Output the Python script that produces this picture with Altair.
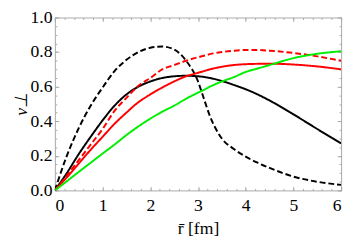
import altair as alt
import pandas as pd

r = [0, 0.25, 0.5, 0.75, 1.0, 1.25, 1.5, 1.75, 2.0, 2.25, 2.5, 2.75, 3.0, 3.1,
     3.25, 3.5, 3.75, 4.0, 4.25, 4.5, 5.0, 5.5, 6.0]

black_dashed = [0, 0.20, 0.36, 0.49, 0.595, 0.69, 0.755, 0.80, 0.825, 0.832, 0.815,
                0.75, 0.63, 0.55, 0.43, 0.30, 0.24, 0.195, 0.16, 0.13, 0.08, 0.05, 0.032]
black_solid = [0, 0.10, 0.21, 0.31, 0.405, 0.49, 0.555, 0.60, 0.63, 0.65, 0.66,
               0.663, 0.66, 0.657, 0.65, 0.633, 0.61, 0.585, 0.555, 0.52, 0.44, 0.355, 0.272]
red_dashed = [0, 0.085, 0.175, 0.265, 0.355, 0.46, 0.535, 0.605, 0.65, 0.70, 0.725,
              0.75, 0.77, 0.777, 0.788, 0.80, 0.808, 0.812, 0.812, 0.808, 0.795, 0.775, 0.75]
red_solid = [0, 0.075, 0.155, 0.235, 0.31, 0.385, 0.45, 0.51, 0.555, 0.595, 0.63,
             0.66, 0.68, 0.688, 0.70, 0.715, 0.725, 0.73, 0.732, 0.733, 0.728, 0.717, 0.70]
green_solid = [0, 0.053, 0.107, 0.16, 0.213, 0.265, 0.32, 0.37, 0.415, 0.455, 0.49,
               0.53, 0.565, 0.578, 0.60, 0.63, 0.655, 0.685, 0.705, 0.725, 0.765, 0.79, 0.805]

series_names = ["black dashed", "black solid", "red dashed", "red solid", "green"]
series_values = [black_dashed, black_solid, red_dashed, red_solid, green_solid]
series_colors = ["#000000", "#000000", "#ff0000", "#ff0000", "#00ee00"]
series_dash = [[6, 3], [1, 0], [6, 3], [1, 0], [1, 0]]

x_major = [0, 1, 2, 3, 4, 5, 6]
x_minor = [i / 5 for i in range(31)]
y_major = [0.0, 0.2, 0.4, 0.6, 0.8, 1.0]
y_minor = [i / 20 for i in range(21)]

rows = []
for name, vals in zip(series_names, series_values):
    for rv, vv in zip(r, vals):
        rows.append({"r": rv, "v": vv, "series": name})
df = pd.DataFrame(rows)

FONT = "Liberation Serif"
TICK = "#a8a8a8"
FS = 18
xs = alt.Scale(domain=[0, 6], nice=False, zero=False)
ys = alt.Scale(domain=[0, 1], nice=False, zero=False)


def ax(orient, values, size, labels=False, **kw):
    return alt.Axis(orient=orient, values=values, tickSize=size, offset=-size,
                    domain=False, grid=False, labels=labels, tickColor=TICK,
                    tickWidth=1, **kw)


base = alt.Chart(df)

lines = base.mark_line(strokeWidth=2, interpolate="monotone", clip=True).encode(
    x=alt.X("r:Q", scale=xs,
            axis=ax("bottom", x_major, 4, labels=True, format="d",
                    title="r̄ [fm]", labelFont=FONT, labelFontSize=FS,
                    labelColor="#000", labelPadding=7, titleFont=FONT,
                    titleFontSize=FS, titleFontWeight="normal",
                    titleColor="#000", titlePadding=5)),
    y=alt.Y("v:Q", scale=ys,
            axis=ax("left", y_major, 4, labels=True, format=".1f",
                    title="v⊥", labelFont=FONT, labelFontSize=FS,
                    labelColor="#000", labelPadding=3, titleFont=FONT,
                    titleFontSize=FS, titleFontStyle="italic",
                    titleFontWeight="normal", titleColor="#000",
                    titlePadding=0)),
    color=alt.Color("series:N", scale=alt.Scale(domain=series_names, range=series_colors),
                    legend=None),
    strokeDash=alt.StrokeDash("series:N",
                              scale=alt.Scale(domain=series_names, range=series_dash),
                              legend=None),
)


def axis_layer(xo, xv, xsz, yo, yv, ysz):
    return base.mark_line(opacity=0).encode(
        x=alt.X("r:Q", scale=xs, axis=ax(xo, xv, xsz, title=None)),
        y=alt.Y("v:Q", scale=ys, axis=ax(yo, yv, ysz, title=None)),
        detail="series:N",
    )


chart = alt.layer(
    axis_layer("bottom", x_minor, 2, "left", y_minor, 2),
    axis_layer("top", x_major, 4, "right", y_major, 4),
    axis_layer("top", x_minor, 2, "right", y_minor, 2),
    lines,
).resolve_axis(x="independent", y="independent").properties(
    width=293, height=177,
    autosize=alt.AutoSizeParams(type="none"),
    padding={"left": 48, "top": 7, "right": 5, "bottom": 46},
    background="white",
).configure_view(stroke="#a8a8a8", strokeWidth=1)

chart.save("out.html", embed_options={"renderer": "svg", "actions": False})
